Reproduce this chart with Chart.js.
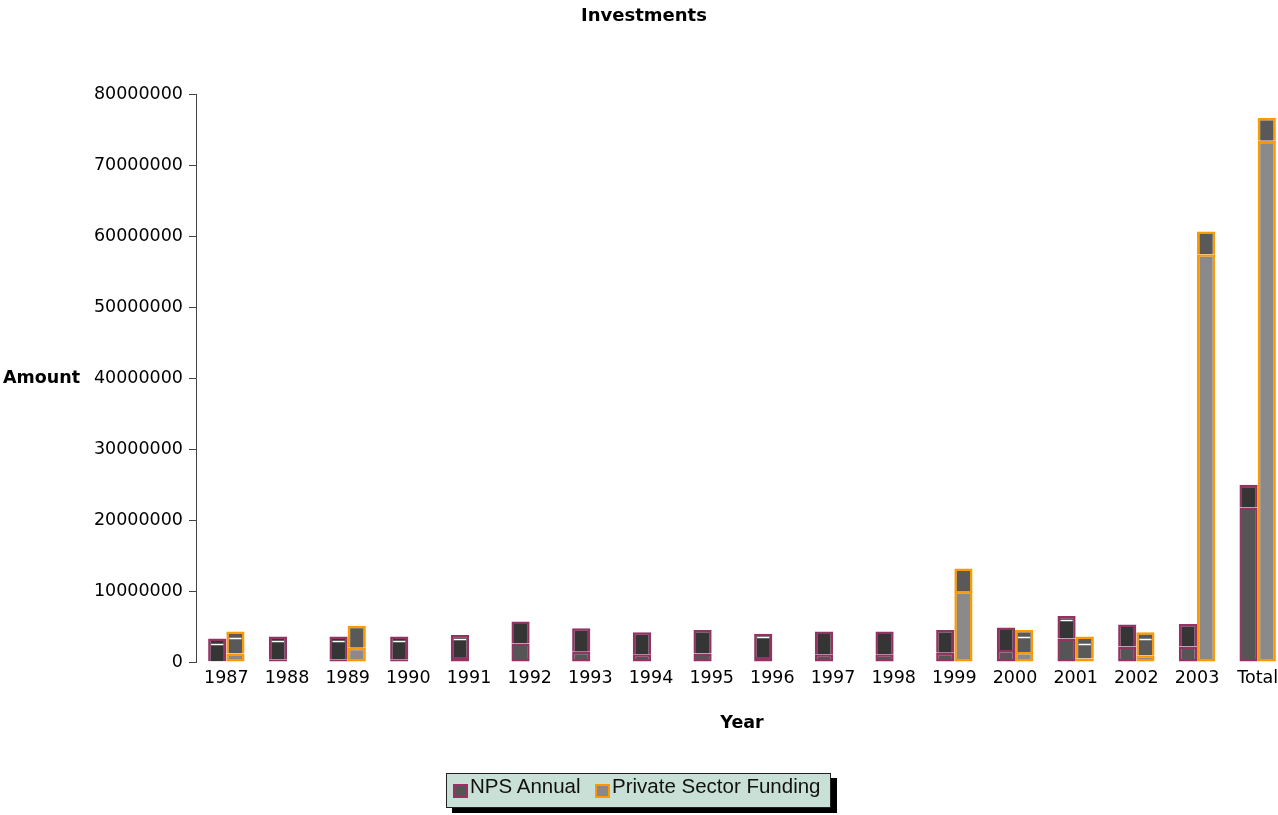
<!DOCTYPE html>
<html>
<head>
<meta charset="utf-8">
<script src="https://cdn.jsdelivr.net/npm/chart.js@4.4.0/dist/chart.umd.min.js"></script>
<style>
  html, body { margin: 0; padding: 0; overflow: hidden; background: #fff; width: 1278px; height: 815px; }
  #wrap { position: absolute; left: 0; top: 0; width: 1290px; height: 815px; }
  #legend { position: absolute; left: 446px; top: 773px; width: 383px; height: 33px;
    background: #c8e0d6; border: 1px solid #222; box-shadow: 6px 5px 0 #000;
    font-family: "Liberation Sans", Arial, sans-serif; font-size: 20.5px; color: #111; }
  #legend .mk { position: absolute; top: 10px; width: 11px; height: 10px; border: 2px solid; }
  #legend .lt { position: absolute; top: 0; line-height: 23px; white-space: nowrap; }
</style>
</head>
<body>
<div id="wrap"><canvas id="chart"></canvas></div>
<div id="legend">
  <span class="mk" style="left:6px;background:#555;border-color:#993366"></span>
  <span class="lt" style="left:23px">NPS Annual</span>
  <span class="mk" style="left:148px;background:#888;border-color:#ff9900"></span>
  <span class="lt" style="left:165px">Private Sector Funding</span>
</div>
<script>
const years = ['1987', '1988', '1989', '1990', '1991', '1992', '1993', '1994', '1995',
  '1996', '1997', '1998', '1999', '2000', '2001', '2002', '2003', 'Total'];

// NPS Annual: bottom (lighter) segment top, and bar top
const npsLow = [100000, 400000, 400000, 400000, 700000, 2600000, 1450000, 1100000, 1200000,
  700000, 1100000, 1100000, 1300000, 1700000, 3300000, 2200000, 2200000, 21800000];
const npsTop = [3300000, 3600000, 3600000, 3600000, 3800000, 5700000, 4750000, 4200000, 4500000,
  4000000, 4300000, 4300000, 4500000, 4850000, 6500000, 5300000, 5350000, 25000000];
const npsMarks = [2600000, 2900000, 2900000, 2900000, 3200000, null, null, null, null,
  3500000, null, null, null, null, 5900000, null, null, null];

// Private Sector Funding
const pvtLow = [1200000, null, 2000000, null, null, null, null, null, null,
  null, null, null, 10000000, 1400000, 500000, 950000, 57500000, 73500000];
const pvtTop = [4300000, null, 5100000, null, null, null, null, null, null,
  null, null, null, 13200000, 4500000, 3600000, 4200000, 60700000, 76700000];
const pvtMarks = [3400000, null, null, null, null, null, null, null, null,
  null, null, null, null, 3500000, 2600000, 3200000, null, null];

const yTicks = { min: 0, max: 80000000, step: 10000000 };

function capRange(low, top) {
  return top.map((v, i) => v == null ? null : [low[i], v]);
}

const extras = {
  id: 'extras',
  afterDatasetsDraw(chart) {
    const ctx = chart.ctx;
    const y = chart.scales.y;
    [[1, npsMarks], [3, pvtMarks]].forEach(([di, marks]) => {
      chart.getDatasetMeta(di).data.forEach((bar, i) => {
        if (marks[i] == null) return;
        const py = Math.round(y.getPixelForValue(marks[i])) + 0.5;
        ctx.save();
        ctx.strokeStyle = '#fff';
        ctx.lineWidth = 1.5;
        ctx.beginPath();
        ctx.moveTo(bar.x - bar.width / 2 + 3, py);
        ctx.lineTo(bar.x + bar.width / 2 - 3, py);
        ctx.stroke();
        ctx.restore();
      });
    });
  },
  afterDraw(chart) {
    const ctx = chart.ctx;
    const a = chart.chartArea;
    ctx.save();
    ctx.font = 'bold 17.5px "DejaVu Sans"';
    ctx.fillStyle = '#000';
    ctx.textAlign = 'left';
    ctx.textBaseline = 'middle';
    ctx.fillText('Amount', 3, (a.top + a.bottom) / 2);
    ctx.restore();
  }
};

Chart.defaults.font.family = '"DejaVu Sans", sans-serif';
Chart.defaults.color = '#000';

new Chart(document.getElementById('chart'), {
  type: 'bar',
  data: {
    labels: years,
    datasets: [
      { label: 'NPS Annual', stack: 'nps', data: npsLow,
        backgroundColor: '#555555', borderColor: '#943264', borderWidth: 2.5, borderSkipped: false },
      { label: 'NPS Annual top', stack: 'nps', data: capRange(npsLow, npsTop),
        backgroundColor: '#353535', borderColor: '#943264', borderWidth: 2.5, borderSkipped: 'start' },
      { label: 'Private Sector Funding', stack: 'pvt', data: pvtLow,
        backgroundColor: '#8a8a8a', borderColor: '#ff9900', borderWidth: 2.5, borderSkipped: false },
      { label: 'Private Sector Funding top', stack: 'pvt', data: capRange(pvtLow, pvtTop),
        backgroundColor: '#595959', borderColor: '#ff9900', borderWidth: 2.5, borderSkipped: 'start' }
    ]
  },
  options: {
    responsive: true,
    maintainAspectRatio: false,
    animation: false,
    categoryPercentage: 0.6,
    barPercentage: 1.0,
    layout: { padding: { left: 0, right: 2, top: 0, bottom: 81 } },
    plugins: {
      legend: { display: false },
      tooltip: { enabled: false },
      title: { display: true, text: 'Investments', color: '#000',
        font: { size: 18, weight: 'bold' }, padding: { top: 6, bottom: 67 } }
    },
    scales: {
      x: {
        grid: { display: false, drawTicks: false },
        border: { display: false },
        ticks: { color: '#000', font: { size: 17.5 }, padding: 6, maxRotation: 0, autoSkip: false },
        title: { display: true, text: 'Year', color: '#000',
          font: { size: 17.5, weight: 'bold' }, padding: { top: 18, bottom: 0 } }
      },
      y: {
        stacked: false,
        min: yTicks.min,
        max: yTicks.max,
        afterFit(scale) { scale.width = 196; },
        ticks: { stepSize: yTicks.step, color: '#000', font: { size: 17.5 }, padding: 6,
          callback: v => String(v) },
        grid: { drawOnChartArea: false, drawTicks: true, tickLength: 7, color: '#444' },
        border: { display: true, color: '#444' }
      }
    }
  },
  plugins: [extras]
});
</script>
</body>
</html>
